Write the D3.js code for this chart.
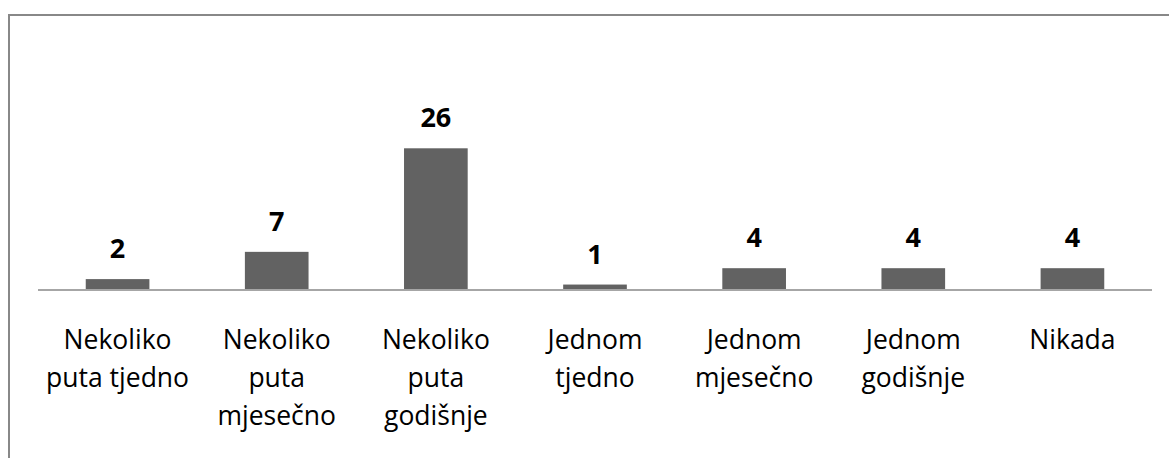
<!DOCTYPE html>
<html>
<head>
<meta charset="utf-8">
<script src="https://cdn.jsdelivr.net/npm/d3@7"></script>
<style>
  html, body { margin: 0; padding: 0; background: #fff; }
  svg { display: block; }
</style>
</head>
<body>
<svg id="chart" width="1169" height="458"></svg>
<script>
// Survey answers: how often respondents do the activity
const categories = [
  "Nekoliko puta tjedno",
  "Nekoliko puta mjesečno",
  "Nekoliko puta godišnje",
  "Jednom tjedno",
  "Jednom mjesečno",
  "Jednom godišnje",
  "Nikada"
];
const counts = [2, 7, 26, 1, 4, 4, 4];

const W = 1169, H = 458;
const svg = d3.select("#chart");
const font = "'Open Sans', 'Noto Sans', sans-serif";

// Outer frame (runs off the right and bottom edges)
svg.append("rect")
  .attr("x", 9).attr("y", 15)
  .attr("width", W + 20).attr("height", H + 20)
  .attr("fill", "none")
  .attr("stroke", "#888888")
  .attr("stroke-width", 2);

const plot = { left: 38, right: 1152, base: 290 };

const x = d3.scaleBand()
  .domain(categories)
  .range([plot.left, plot.right])
  .paddingInner(0.6)
  .paddingOuter(0.3);

const y = d3.scaleLinear()
  .domain([0, 30])
  .range([plot.base, plot.base - 163.5]);

// Bars
svg.append("g").selectAll("rect")
  .data(categories)
  .join("rect")
  .attr("x", d => x(d))
  .attr("width", x.bandwidth())
  .attr("y", (d, i) => y(counts[i]))
  .attr("height", (d, i) => y(0) - y(counts[i]))
  .attr("fill", "#626262");

// Category axis: baseline only, wrapped labels underneath
const axis = svg.append("g")
  .attr("transform", `translate(0,${y(0)})`)
  .call(d3.axisBottom(x).tickSize(0).tickSizeOuter(0).tickPadding(0));
axis.select(".domain")
  .attr("stroke", "#a6a6a6")
  .attr("stroke-width", 2)
  .attr("d", `M${plot.left},0H${plot.right}`);

axis.selectAll(".tick text")
  .attr("font-family", font)
  .attr("font-size", 26.5)
  .attr("fill", "#000")
  .each(function (d) {
    const t = d3.select(this);
    const words = d.split(" ");
    const lines = [];
    let cur = [];
    t.text(null);
    const probe = t.append("tspan");
    words.forEach(w => {
      const trial = cur.concat([w]).join(" ");
      probe.text(trial);
      if (cur.length && probe.node().getComputedTextLength() > 152) {
        lines.push(cur.join(" "));
        cur = [w];
      } else {
        cur.push(w);
      }
    });
    lines.push(cur.join(" "));
    probe.remove();
    t.attr("dy", null).attr("y", null);
    lines.forEach((ln, i) => {
      t.append("tspan")
        .attr("x", 0)
        .attr("y", 59 + i * 38)
        .text(ln);
    });
  });

// Value labels above bars
svg.append("g").selectAll("text")
  .data(categories)
  .join("text")
  .attr("x", d => x(d) + x.bandwidth() / 2)
  .attr("y", (d, i) => y(counts[i]) - 21)
  .attr("text-anchor", "middle")
  .attr("font-family", font)
  .attr("font-weight", "bold")
  .attr("font-size", 27)
  .attr("fill", "#000")
  .text((d, i) => counts[i]);
</script>
</body>
</html>
